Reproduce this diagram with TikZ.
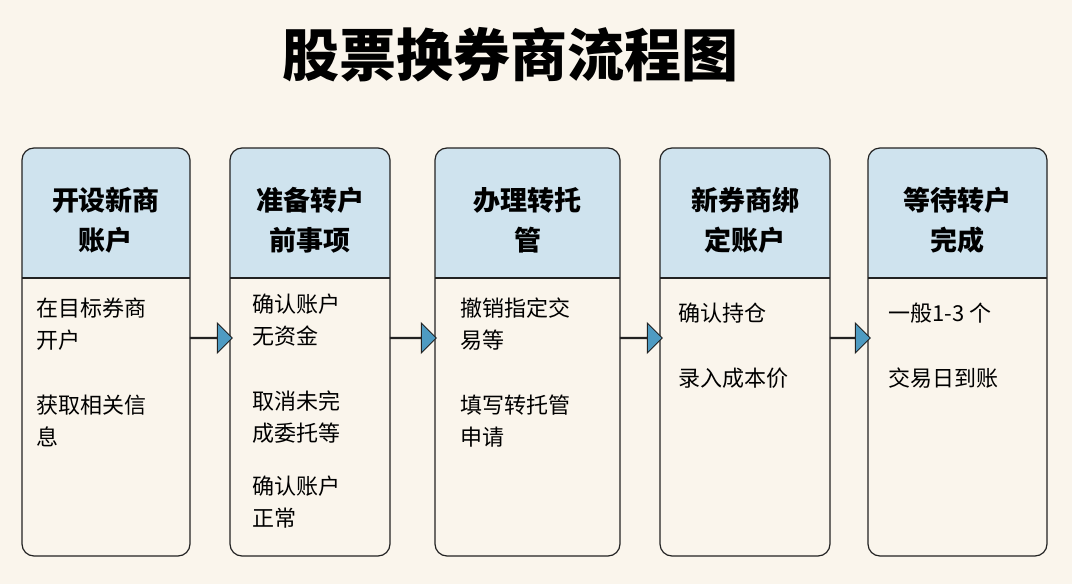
\documentclass[tikz,border=0pt]{standalone}
\usepackage{fontspec}
\usepackage{xcolor}
\usetikzlibrary{positioning,shapes.arrows}
\setmainfont{Noto Sans CJK SC}
\definecolor{PaperBg}{HTML}{FAF5EC}
\definecolor{HeadBlue}{HTML}{CFE3EE}
\definecolor{ArrowBlue}{HTML}{4E9BC2}
\definecolor{InkLine}{HTML}{222222}
\begin{document}
\begin{tikzpicture}[x=1pt, y=-1pt,
                    card/.style={draw=InkLine, line width=1.2pt, rounded corners=12pt},
                    headtxt/.style={font=\fontsize{27}{40}\selectfont\bfseries, align=center, text=black},
                    bodytxt/.style={font=\fontsize{22}{32}\selectfont, align=left, anchor=north west, inner sep=0pt, text=black},
                    flow/.style={single arrow, draw=InkLine, line width=1pt, fill=ArrowBlue,
                                 minimum width=30pt, minimum height=46pt, single arrow head extend=14pt,
                                 inner sep=0pt, shape border rotate=0}]
\fill[PaperBg] (0,0) rectangle (1072,584);
\node[font=\bfseries\fontsize{57}{57}\selectfont] (title) at (510,55) {股票换券商流程图};
% cards: left/right/header
\foreach \n/\xa/\xb/\hd in {1/22/190/{开设新商\\账户}, 2/230/390/{准备转户\\前事项},
                          3/435/620/{办理转托\\管}, 4/660/830/{新券商绑\\定账户},
                          5/868/1047/{等待转户\\完成}} {
  \fill[PaperBg, rounded corners=12pt] (\xa,148) rectangle (\xb,556);
  \fill[HeadBlue, rounded corners=12pt] (\xa,278) -- (\xa,148) -- (\xb,148) [sharp corners] -- (\xb,278) -- cycle;
  \draw[InkLine, line width=1.2pt] (\xa,278) -- (\xb,278);
  \draw[card] (\xa,148) rectangle (\xb,556);
  \coordinate (c\n) at ({(\xa+\xb)/2},220);
  \node[headtxt] (h\n) at (c\n) {\hd};
}
\node[bodytxt] (b1) at (36,298) {在目标券商\\开户\\[33pt]获取相关信\\息};
\node[bodytxt] (b2) at (252,294) {确认账户\\无资金\\[33pt]取消未完\\成委托等\\[21pt]确认账户\\正常};
\node[bodytxt] (b3) at (460,298) {撤销指定交\\易等\\[33pt]填写转托管\\申请};
\node[bodytxt] (b4) at (678,303) {确认持仓\\[33pt]录入成本价};
\node[bodytxt] (b5) at (888,303) {一般1-3 个\\[33pt]交易日到账};
\node[flow, minimum height=42pt] (a1) at (211,338) {};
\node[flow] (a2) at (413,338) {};
\node[flow, minimum height=42pt] (a3) at (641,338) {};
\node[flow, minimum height=40pt] (a4) at (850,338) {};
\end{tikzpicture}
\end{document}
